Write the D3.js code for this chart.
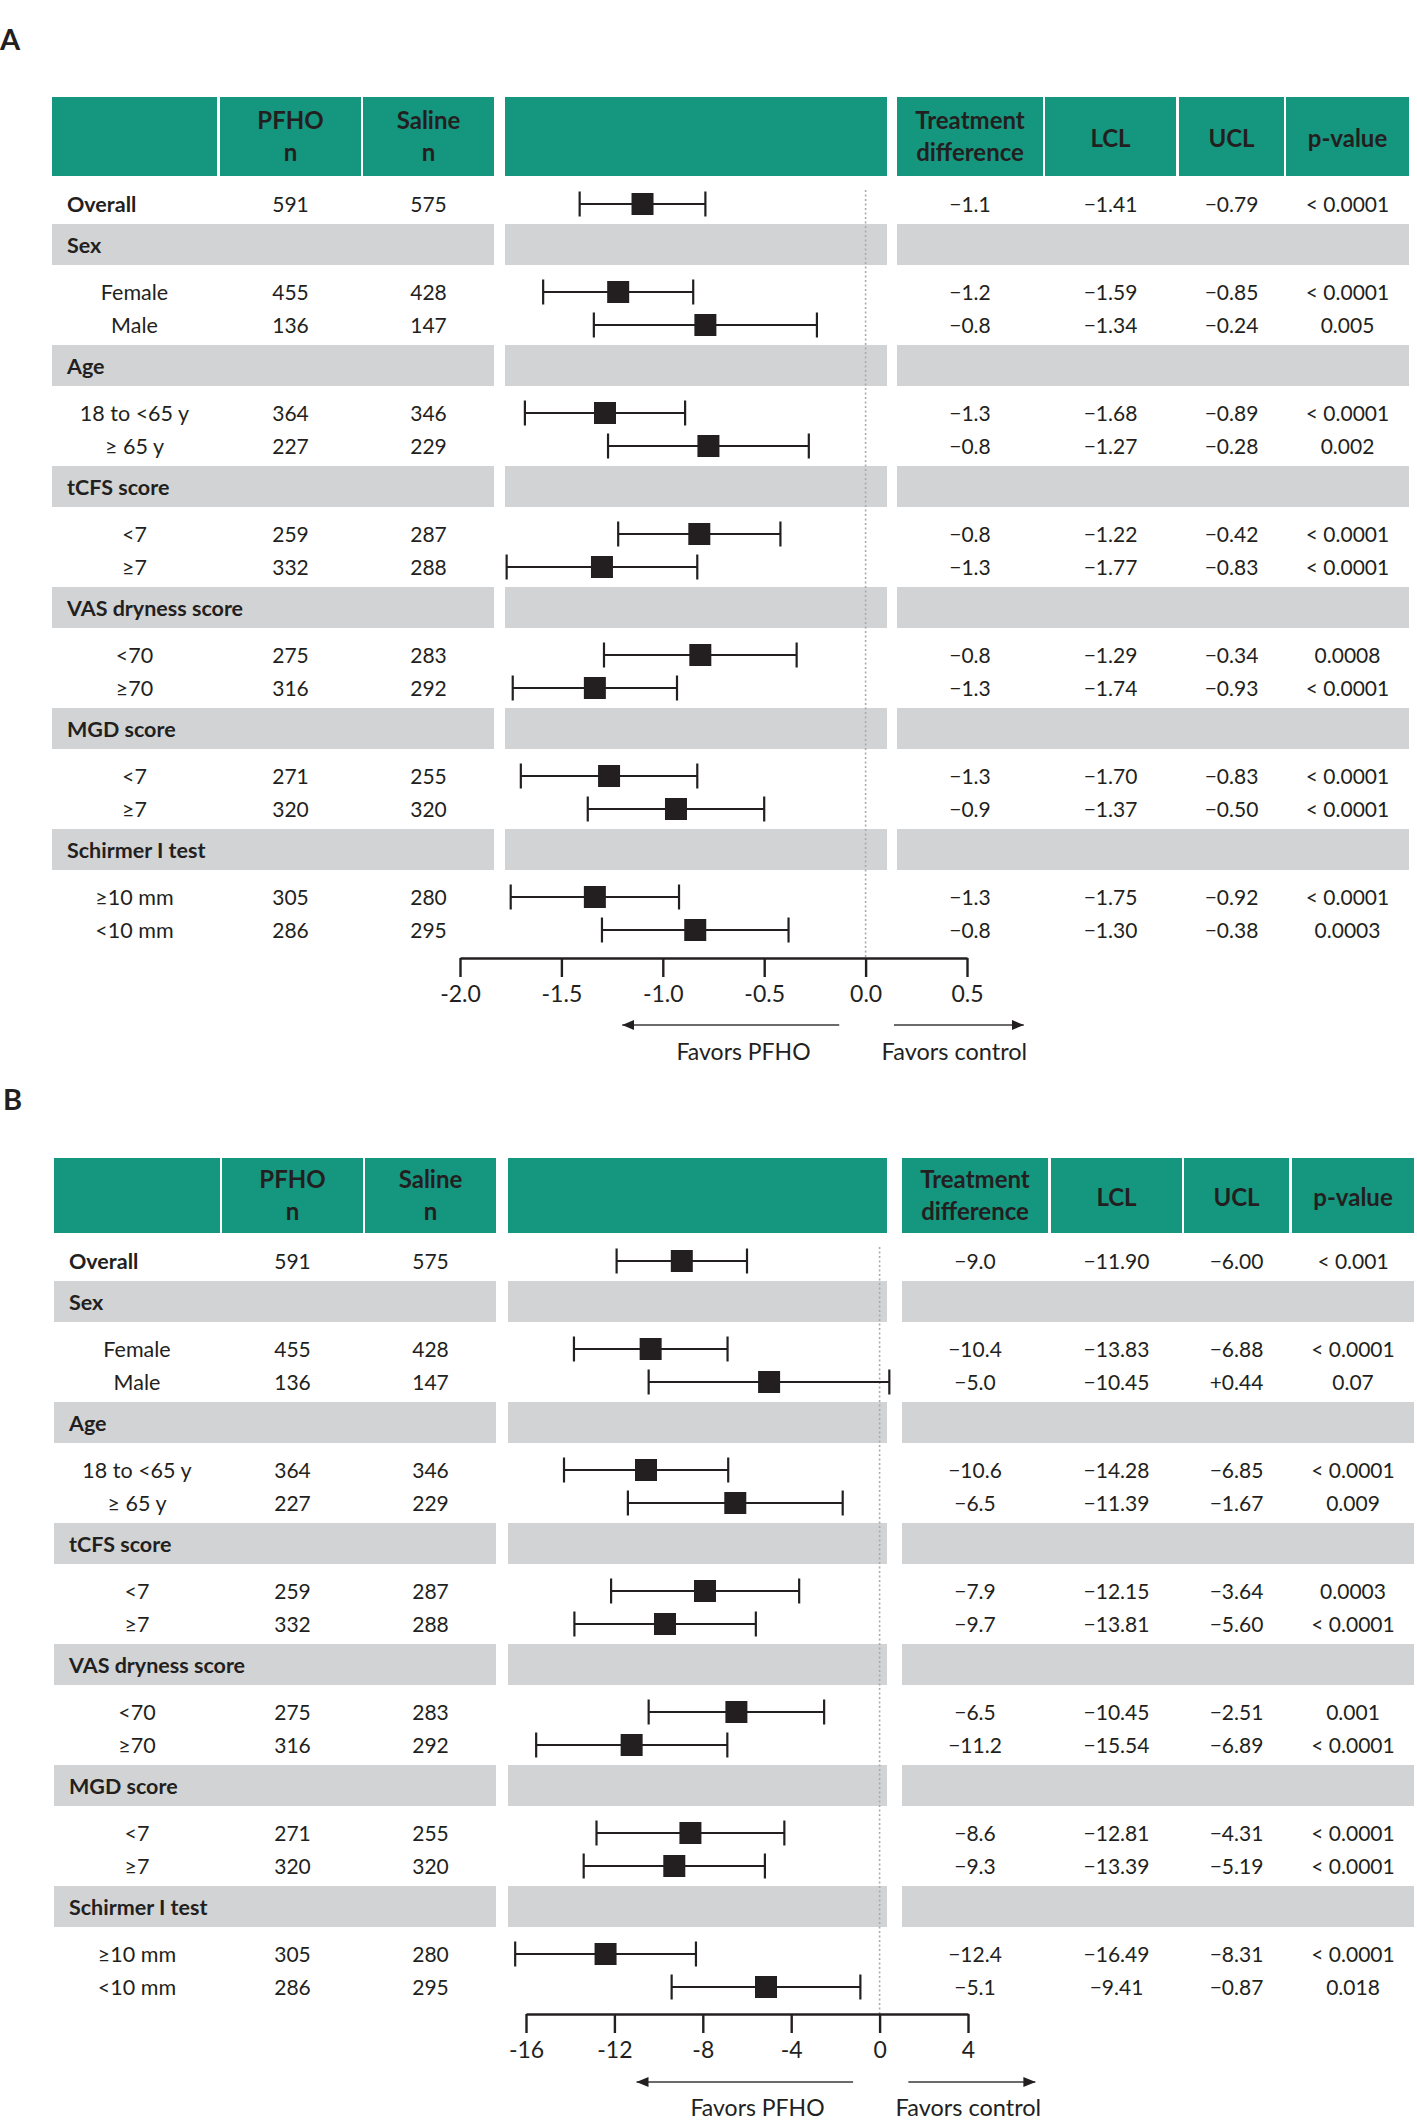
<!DOCTYPE html>
<html>
<head>
<meta charset="utf-8">
<script src="https://cdn.jsdelivr.net/npm/d3@7"></script>
<style>
  html, body { margin: 0; padding: 0; background: #ffffff; }
  svg text { font-family: Lato, "Open Sans", "DejaVu Sans", sans-serif; fill: #231f20; }
</style>
</head>
<body>
<svg id="chart" width="1417" height="2124"></svg>
<script>
// ---------------- DATA ----------------
const groupLabels = ["Sex", "Age", "tCFS score", "VAS dryness score", "MGD score", "Schirmer I test"];
const subgroupLabels = ["Female", "Male", "18 to <65 y", "\u2265 65 y", "<7", "\u22657", "<70", "\u226570", "<7", "\u22657", "\u226510 mm", "<10 mm"];
const overallLabel = "Overall";
const headerLabels = [["", ""], ["PFHO", "n"], ["Saline", "n"], ["", ""], ["Treatment", "difference"], ["LCL"], ["UCL"], ["p-value"]];

// n per arm (Overall first, then subgroups in order)
const nPFHO   = [591, 455, 136, 364, 227, 259, 332, 275, 316, 271, 320, 305, 286];
const nSaline = [575, 428, 147, 346, 229, 287, 288, 283, 292, 255, 320, 280, 295];

// Panel A
const aDiffText = ["\u22121.1", "\u22121.2", "\u22120.8", "\u22121.3", "\u22120.8", "\u22120.8", "\u22121.3", "\u22120.8", "\u22121.3", "\u22121.3", "\u22120.9", "\u22121.3", "\u22120.8"];
const aEst = [-1.10, -1.22, -0.79, -1.285, -0.775, -0.82, -1.30, -0.815, -1.335, -1.265, -0.935, -1.335, -0.84];
const aLCL = [-1.41, -1.59, -1.34, -1.68, -1.27, -1.22, -1.77, -1.29, -1.74, -1.70, -1.37, -1.75, -1.30];
const aUCL = [-0.79, -0.85, -0.24, -0.89, -0.28, -0.42, -0.83, -0.34, -0.93, -0.83, -0.50, -0.92, -0.38];
const aP = ["< 0.0001", "< 0.0001", "0.005", "< 0.0001", "0.002", "< 0.0001", "< 0.0001", "0.0008", "< 0.0001", "< 0.0001", "< 0.0001", "< 0.0001", "0.0003"];
const aTicks = [-2.0, -1.5, -1.0, -0.5, 0.0, 0.5];

// Panel B
const bDiffText = ["\u22129.0", "\u221210.4", "\u22125.0", "\u221210.6", "\u22126.5", "\u22127.9", "\u22129.7", "\u22126.5", "\u221211.2", "\u22128.6", "\u22129.3", "\u221212.4", "\u22125.1"];
const bEst = [-8.95, -10.36, -5.00, -10.57, -6.53, -7.90, -9.71, -6.48, -11.22, -8.56, -9.29, -12.40, -5.14];
const bLCL = [-11.90, -13.83, -10.45, -14.28, -11.39, -12.15, -13.81, -10.45, -15.54, -12.81, -13.39, -16.49, -9.41];
const bUCL = [-6.00, -6.88, 0.44, -6.85, -1.67, -3.64, -5.60, -2.51, -6.89, -4.31, -5.19, -8.31, -0.87];
const bP = ["< 0.001", "< 0.0001", "0.07", "< 0.0001", "0.009", "0.0003", "< 0.0001", "0.001", "< 0.0001", "< 0.0001", "< 0.0001", "< 0.0001", "0.018"];
const bTicks = [-16, -12, -8, -4, 0, 4];

const favorsLeft = "Favors PFHO";
const favorsRight = "Favors control";

// ---------------- STYLE / LAYOUT ----------------
const TEAL = "#14967f";
const GRAY = "#d1d3d4";
const INK = "#231f20";
const FS = 21;       // table body text
const FS_HEAD = 24;  // header text
const FS_AXIS = 23;  // tick / favors text

const svg = d3.select("#chart");

function fmtCL(v) {
  const s = Math.abs(v).toFixed(2);
  return v > 0 ? "+" + s : "\u2212" + s;
}

function drawPanel(cfg) {
  const g = svg.append("g");
  const cols = cfg.cols; // [left,right] pairs
  const cx = c => (cols[c][0] + cols[c][1]) / 2;

  // panel letter
  g.append("text").attr("x", cfg.letterX).attr("y", cfg.letterY)
    .attr("font-size", 29).attr("font-weight", 700).text(cfg.letter);

  // header cells
  cols.forEach((c, i) => {
    g.append("rect").attr("x", c[0]).attr("y", cfg.headTop)
      .attr("width", c[1] - c[0]).attr("height", cfg.headBot - cfg.headTop)
      .attr("fill", TEAL);
    const lines = headerLabels[i];
    const mid = (cfg.headTop + cfg.headBot) / 2;
    if (lines.length === 2) {
      if (lines[0]) {
        g.append("text").attr("x", cx(i)).attr("y", mid - 16).attr("dy", "0.36em")
          .attr("text-anchor", "middle").attr("font-size", FS_HEAD).attr("font-weight", 700).text(lines[0]);
        g.append("text").attr("x", cx(i)).attr("y", mid + 16).attr("dy", "0.36em")
          .attr("text-anchor", "middle").attr("font-size", FS_HEAD).attr("font-weight", 700).text(lines[1]);
      }
    } else {
      g.append("text").attr("x", cx(i)).attr("y", mid + 2).attr("dy", "0.36em")
        .attr("text-anchor", "middle").attr("font-size", FS_HEAD).attr("font-weight", 700).text(lines[0]);
    }
  });

  // row positions
  const rowY = [cfg.overallY];
  const bandTops = groupLabels.map((d, k) => cfg.firstBand + k * cfg.period);
  bandTops.forEach(t => { rowY.push(t + cfg.r1); rowY.push(t + cfg.r2); });

  // gray bands
  bandTops.forEach((t, k) => {
    [[cols[0][0], cols[2][1]], [cols[3][0], cols[3][1]], [cols[4][0], cols[7][1]]].forEach(s => {
      g.append("rect").attr("x", s[0]).attr("y", t).attr("width", s[1] - s[0])
        .attr("height", cfg.bandH).attr("fill", GRAY);
    });
    g.append("text").attr("x", cols[0][0] + 15).attr("y", t + cfg.bandH / 2 + 1).attr("dy", "0.36em")
      .attr("font-size", FS + 0.5).attr("font-weight", 700).text(groupLabels[k]);
  });

  // x scale
  const x = d3.scaleLinear().domain(cfg.domain).range(cfg.range);

  // zero reference line (dotted)
  g.append("line").attr("x1", x(0)).attr("x2", x(0))
    .attr("y1", cfg.overallY - 14).attr("y2", cfg.axisY)
    .attr("stroke", "#aaaaaa").attr("stroke-width", 1.6).attr("stroke-dasharray", "2,2.5");

  // table text
  const labels = [overallLabel].concat(subgroupLabels);
  rowY.forEach((y, i) => {
    if (i === 0) {
      g.append("text").attr("x", cols[0][0] + 15).attr("y", y).attr("dy", "0.36em")
        .attr("font-size", FS + 0.5).attr("font-weight", 700).text(labels[i]);
    } else {
      g.append("text").attr("x", cx(0)).attr("y", y).attr("dy", "0.36em")
        .attr("text-anchor", "middle").attr("font-size", FS + 0.5).text(labels[i]);
    }
    const vals = [nPFHO[i], nSaline[i]];
    [1, 2].forEach((c, j) => {
      g.append("text").attr("x", cx(c)).attr("y", y).attr("dy", "0.36em")
        .attr("text-anchor", "middle").attr("font-size", FS).text(vals[j]);
    });
    const right = [cfg.diff[i], fmtCL(cfg.lcl[i]), fmtCL(cfg.ucl[i]), cfg.p[i]];
    right.forEach((t, j) => {
      g.append("text").attr("x", cx(4 + j)).attr("y", y).attr("dy", "0.36em")
        .attr("text-anchor", "middle").attr("font-size", FS).text(t);
    });
  });

  // forest marks
  const marks = g.append("g");
  const idx = d3.range(rowY.length);
  marks.selectAll("line.ci").data(idx).join("line").attr("class", "ci")
    .attr("x1", i => x(cfg.lcl[i])).attr("x2", i => x(cfg.ucl[i]))
    .attr("y1", i => rowY[i]).attr("y2", i => rowY[i])
    .attr("stroke", INK).attr("stroke-width", 2);
  marks.selectAll("line.capl").data(idx).join("line").attr("class", "capl")
    .attr("x1", i => x(cfg.lcl[i])).attr("x2", i => x(cfg.lcl[i]))
    .attr("y1", i => rowY[i] - 12.5).attr("y2", i => rowY[i] + 12.5)
    .attr("stroke", INK).attr("stroke-width", 2.2);
  marks.selectAll("line.capu").data(idx).join("line").attr("class", "capu")
    .attr("x1", i => x(cfg.ucl[i])).attr("x2", i => x(cfg.ucl[i]))
    .attr("y1", i => rowY[i] - 12.5).attr("y2", i => rowY[i] + 12.5)
    .attr("stroke", INK).attr("stroke-width", 2.2);
  const sq = 22;
  marks.selectAll("rect.est").data(idx).join("rect").attr("class", "est")
    .attr("x", i => x(cfg.est[i]) - sq / 2).attr("y", i => rowY[i] - sq / 2)
    .attr("width", sq).attr("height", sq).attr("fill", INK);

  // axis
  const axis = d3.axisBottom(x).tickValues(cfg.ticks).tickSize(19).tickSizeOuter(0)
    .tickPadding(9).tickFormat(cfg.tickFmt);
  const ag = g.append("g").attr("transform", `translate(0,${cfg.axisY})`).call(axis);
  ag.select(".domain").attr("stroke", INK).attr("stroke-width", 2.4);
  ag.selectAll(".tick line").attr("stroke", INK).attr("stroke-width", 2.4);
  ag.selectAll(".tick text").attr("font-size", FS_AXIS).attr("fill", INK)
    .style("font-family", 'Lato, "Open Sans", sans-serif');

  // arrows
  const defsId = "arr" + cfg.letter;
  svg.append("defs").append("marker").attr("id", defsId)
    .attr("viewBox", "0 0 12 10").attr("refX", 12).attr("refY", 5)
    .attr("markerWidth", 12).attr("markerHeight", 10).attr("markerUnits", "userSpaceOnUse")
    .attr("orient", "auto")
    .append("path").attr("d", "M0,0 L12,5 L0,10 Z").attr("fill", INK);
  g.append("line").attr("x1", x(cfg.arrowL[0])).attr("x2", x(cfg.arrowL[1]))
    .attr("y1", cfg.arrowY).attr("y2", cfg.arrowY)
    .attr("stroke", "#3a3a3a").attr("stroke-width", 1.5).attr("marker-end", `url(#${defsId})`);
  g.append("line").attr("x1", x(cfg.arrowR[0])).attr("x2", x(cfg.arrowR[1]))
    .attr("y1", cfg.arrowY).attr("y2", cfg.arrowY)
    .attr("stroke", "#3a3a3a").attr("stroke-width", 1.5).attr("marker-end", `url(#${defsId})`);
  g.append("text").attr("x", x(0) - 55).attr("y", cfg.favorsY).attr("dy", "0.36em")
    .attr("text-anchor", "end").attr("font-size", FS_AXIS).text(favorsLeft);
  g.append("text").attr("x", x(0) + 16).attr("y", cfg.favorsY).attr("dy", "0.36em")
    .attr("text-anchor", "start").attr("font-size", FS_AXIS + 0.5).text(favorsRight);
}

drawPanel({
  letter: "A", letterX: 0, letterY: 50,
  headTop: 97, headBot: 176,
  cols: [[52, 217], [220, 361], [363, 494], [505, 887], [897, 1043], [1045, 1176], [1179, 1284], [1286, 1409]],
  overallY: 204, firstBand: 224, period: 121, bandH: 41, r1: 68, r2: 101,
  domain: [-2.0, 0.5], range: [460, 967],
  ticks: aTicks, tickFmt: d => d.toFixed(1),
  est: aEst, lcl: aLCL, ucl: aUCL, diff: aDiffText, p: aP,
  axisY: 958, arrowY: 1025, favorsY: 1052,
  arrowL: [-0.13, -1.2], arrowR: [0.14, 0.78]
});

drawPanel({
  letter: "B", letterX: 3, letterY: 1110,
  headTop: 1158, headBot: 1233,
  cols: [[54, 220], [222, 363], [365, 496], [508, 887], [902, 1048], [1051, 1182], [1184, 1289], [1292, 1414]],
  overallY: 1261, firstBand: 1281, period: 121, bandH: 41, r1: 68, r2: 101,
  domain: [-16, 4], range: [526, 968],
  ticks: bTicks, tickFmt: d => String(d),
  est: bEst, lcl: bLCL, ucl: bUCL, diff: bDiffText, p: bP,
  axisY: 2014, arrowY: 2082, favorsY: 2108,
  arrowL: [-1.2, -11.0], arrowR: [1.3, 7.05]
});
</script>
</body>
</html>
